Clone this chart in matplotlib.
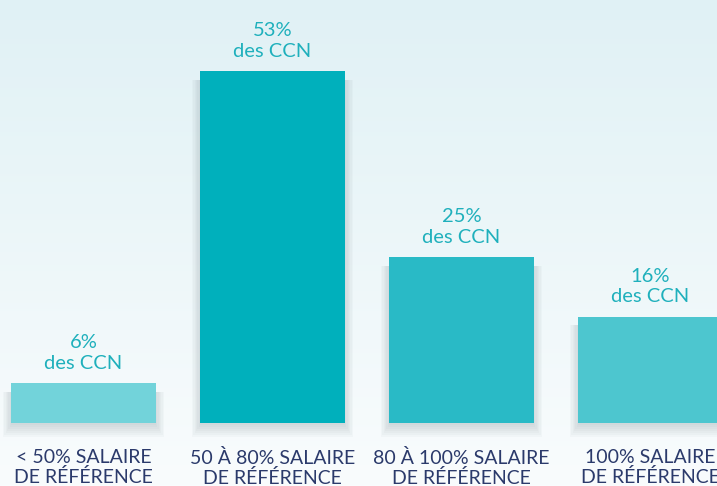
import numpy as np
import matplotlib
matplotlib.use("Agg")
import matplotlib.pyplot as plt
from matplotlib.colors import LinearSegmentedColormap

# data
categories = ["< 50% SALAIRE\nDE RÉFÉRENCE", "50 À 80% SALAIRE\nDE RÉFÉRENCE",
              "80 À 100% SALAIRE\nDE RÉFÉRENCE", "100% SALAIRE\nDE RÉFÉRENCE"]
values = [6, 53, 25, 16]
bar_colors = ["#72d3da", "#00b0bc", "#29bac6", "#4dc6cf"]

plt.rcParams["font.family"] = ["Lato", "DejaVu Sans"]

fig = plt.figure(figsize=(7.17, 4.86), dpi=100)
ax = fig.add_axes([0, 0, 1, 1])
ax.set_xlim(-0.442, 3.352)
ax.set_ylim(-9.49, 63.7)
ax.axis("off")

# soft background gradient
grad = np.linspace(0, 1, 256).reshape(-1, 1)
bg = LinearSegmentedColormap.from_list("bg", ["#f9fcfd", "#e0f1f5"])
ax.imshow(grad, extent=[-0.442, 3.352, -9.49, 63.7], origin="lower",
          aspect="auto", cmap=bg, zorder=0)

x = np.arange(len(values))
width = 0.767

# fuzzy drop shadow under each bar
for i, v in enumerate(values):
    for k in range(7):
        grow = 0.007 * k
        ax.bar(x[i], v - 1.0 + 0.3 * k, width=width + 2 * grow, bottom=-0.3 - 0.3 * k,
               color="#6f7f86", alpha=0.04, linewidth=0, zorder=1)

ax.bar(x, values, width=width, color=bar_colors, linewidth=0, zorder=3)

for i, v in enumerate(values):
    ax.text(x[i], v + 1.7, f"{v}%\ndes CCN", ha="center", va="bottom",
            fontsize=14.5, color="#1fb0bc", linespacing=1.25, zorder=4)
    ax.text(x[i], -3.9, categories[i], ha="center", va="top",
            fontsize=14, color="#2b3a6b", linespacing=1.12, zorder=4)

fig.savefig("out.png", dpi=100)
